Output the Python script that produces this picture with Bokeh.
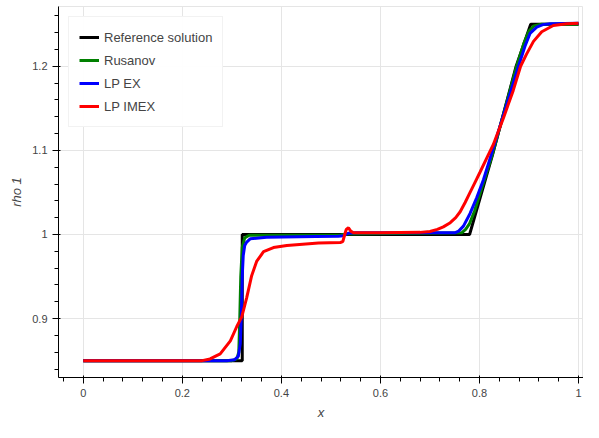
from bokeh.plotting import figure
from bokeh.models import Range1d
from bokeh.embed import file_html
from bokeh.resources import INLINE

# Reference solution
ref_x = [0.0, 0.321, 0.321, 0.78, 0.826, 0.874, 0.9034, 1.0]
ref_y = [0.85, 0.85, 1.0, 1.0, 1.094, 1.2, 1.25, 1.25]

# Rusanov
rus_x = [0.0, 0.30, 0.31, 0.314, 0.316, 0.318, 0.321, 0.326, 0.335, 0.52, 0.53,
         0.764, 0.772, 0.78, 0.79, 0.826, 0.874, 0.89, 0.90, 0.91, 0.925, 1.0]
rus_y = [0.85, 0.85, 0.852, 0.86, 0.9, 0.95, 0.985, 0.996, 0.999, 0.9995, 1.0005,
         1.002, 1.006, 1.013, 1.028, 1.095, 1.198, 1.228, 1.242, 1.248, 1.25, 1.25]

# LP EX
lpex_x = [0.0, 0.29, 0.305, 0.313, 0.317, 0.319, 0.321, 0.323, 0.326, 0.33, 0.337,
          0.37, 0.47, 0.515, 0.525, 0.535, 0.55, 0.75, 0.758, 0.7676, 0.781, 0.7945,
          0.808, 0.828, 0.8786, 0.892, 0.902, 0.9156, 0.928, 0.9425, 1.0]
lpex_y = [0.85, 0.85, 0.851, 0.855, 0.87, 0.9, 0.95, 0.975, 0.987, 0.991, 0.9948,
          0.9966, 0.9977, 0.998, 0.9985, 1.0015, 1.002, 1.002, 1.004, 1.0099, 1.025, 1.044,
          1.065, 1.103, 1.2, 1.224, 1.239, 1.2466, 1.2495, 1.2505, 1.251]

# LP IMEX
imex_x = [0.0, 0.24, 0.256, 0.2765, 0.297, 0.31, 0.32, 0.33, 0.34, 0.35, 0.364,
          0.384, 0.411, 0.475, 0.519, 0.524, 0.528, 0.531, 0.5355, 0.54, 0.5455,
          0.60, 0.68, 0.70, 0.715, 0.727, 0.741, 0.752, 0.761, 0.771, 0.781, 0.791,
          0.801, 0.818, 0.828, 0.848, 0.868, 0.883, 0.895, 0.909, 0.9257, 0.949,
          0.976, 1.0]
imex_y = [0.85, 0.85, 0.852, 0.858, 0.8735, 0.8906, 0.902, 0.925, 0.951, 0.968, 0.9795,
          0.9845, 0.987, 0.9898, 0.9905, 0.9915, 1.0, 1.006, 1.008, 1.004, 1.002,
          1.002, 1.0025, 1.0035, 1.006, 1.009, 1.014, 1.02, 1.027, 1.038, 1.05, 1.062,
          1.074, 1.095, 1.107, 1.138, 1.171, 1.2, 1.2144, 1.2296, 1.241, 1.2485,
          1.2505, 1.251]

p = figure(width=583, height=422, output_backend="svg", toolbar_location=None,
           x_axis_label="x", y_axis_label="rho 1",
           min_border_top=6, min_border_right=0, min_border_left=58)
p.x_range = Range1d(-0.05, 1.01)

p.line(ref_x, ref_y, color="black", line_width=3, legend_label="Reference solution")
p.line(rus_x, rus_y, color="green", line_width=3, legend_label="Rusanov")
p.line(lpex_x, lpex_y, color="blue", line_width=3, legend_label="LP EX")
p.line(imex_x, imex_y, color="red", line_width=3, legend_label="LP IMEX")

p.legend.location = "top_left"

open("out.html", "w").write(file_html(p, INLINE))
